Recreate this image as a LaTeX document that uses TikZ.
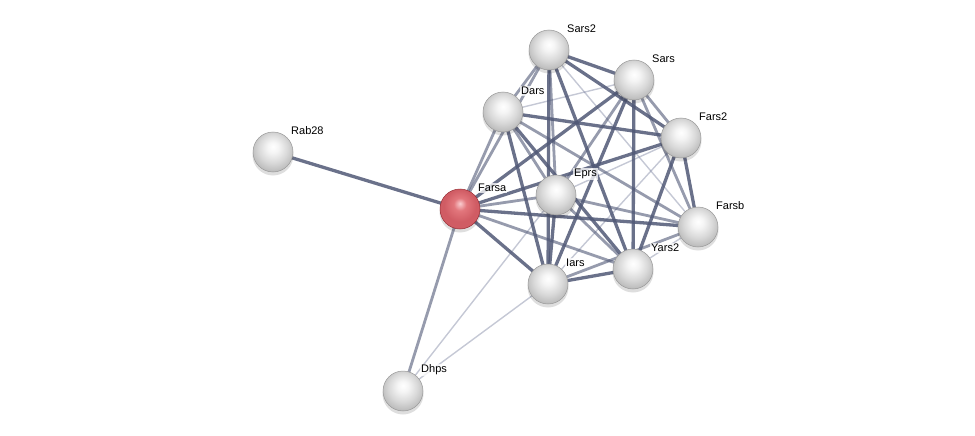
\documentclass[tikz,border=0pt]{standalone}
\usepackage{fontspec}
\setmainfont{Liberation Sans}
\pgfdeclareradialshading{lightball}{\pgfpoint{0bp}{7bp}}{%
  color(0bp)=(white); color(7bp)=(white!96!black); color(18bp)=(white!85!black);
  color(27bp)=(white!74!black); color(31bp)=(white!58!black); color(50bp)=(white!58!black)}
\definecolor{rA}{RGB}{250,205,208}
\definecolor{rB}{RGB}{226,118,124}
\definecolor{rC}{RGB}{208,92,100}
\definecolor{rD}{RGB}{160,50,58}
\pgfdeclareradialshading{redball}{\pgfpoint{0bp}{7bp}}{%
  color(0bp)=(rA); color(8bp)=(rB); color(20bp)=(rC);
  color(28bp)=(rC); color(31bp)=(rD); color(50bp)=(rD)}
\begin{document}
\begin{tikzpicture}[x=1pt,y=-1pt,
  ballnode/.style={circle,minimum size=40pt,inner sep=0pt,shading=lightball,draw=white!60!black,line width=0.5pt},
  rednode/.style={circle,minimum size=40pt,inner sep=0pt,shading=redball,draw={rgb,255:red,150;green,45;blue,52},line width=0.5pt},
  lbl/.style={anchor=west,font=\fontsize{11}{13}\selectfont,fill=white,fill opacity=0.75,text opacity=1,inner sep=1pt},
  estrong/.style={line width=3.3pt,draw={rgb,255:red,80;green,88;blue,118},draw opacity=0.85},
  emid/.style={line width=2.8pt,draw={rgb,255:red,80;green,88;blue,118},draw opacity=0.6},
  eweak/.style={line width=1.4pt,draw={rgb,255:red,110;green,118;blue,150},draw opacity=0.4}]
\useasboundingbox (0,0) rectangle (975,436);
% node anchors for edges
\coordinate (s2) at (549,50);
\coordinate (s) at (634,80);
\coordinate (d) at (503,112);
\coordinate (f2) at (681,138);
\coordinate (r) at (273,152);
\coordinate (fa) at (460,209);
\coordinate (e) at (556,195);
\coordinate (fb) at (698,227);
\coordinate (y) at (633,269);
\coordinate (i) at (548,284);
\coordinate (dh) at (403,391);
% edges
\foreach \a/\b in {s/d,s2/fb,f2/i,f2/e,fb/y,dh/e,dh/i}
  \draw[eweak] (\a) -- (\b);
\foreach \a/\b in {s2/d,s2/e,s2/fa,s/f2,s/fb,s/e,d/fb,d/e,d/fa,fb/i,fb/e,y/e,y/fa,e/fa,dh/fa}
  \draw[emid] (\a) -- (\b);
\foreach \a/\b in {s2/s,s2/f2,s2/i,s2/y,s/i,s/y,s/fa,d/y,d/i,f2/fa,f2/fb,f2/y,fb/fa,y/i,i/e,i/fa,d/f2,r/fa}
  \draw[estrong] (\a) -- (\b);
% shadows
\foreach \p in {s2,s,d,f2,r,fa,e,fb,y,i,dh}
  \fill[black,opacity=0.13] (\p) ++(0,3) circle (20.5);
% nodes
\node[ballnode] (ns2) at (s2) {};
\node[ballnode] (ns) at (s) {};
\node[ballnode] (nd) at (d) {};
\node[ballnode] (nf2) at (f2) {};
\node[ballnode] (nr) at (r) {};
\node[rednode] (nfa) at (fa) {};
\node[ballnode] (ne) at (e) {};
\node[ballnode] (nfb) at (fb) {};
\node[ballnode] (ny) at (y) {};
\node[ballnode] (ni) at (i) {};
\node[ballnode] (ndh) at (dh) {};
% labels
\node[lbl] (ls2) at ([shift={(17,-21)}]ns2.center) {Sars2};
\node[lbl] (ls) at ([shift={(17,-21)}]ns.center) {Sars};
\node[lbl] (ld) at ([shift={(17,-21)}]nd.center) {Dars};
\node[lbl] (lf2) at ([shift={(17,-21)}]nf2.center) {Fars2};
\node[lbl] (lr) at ([shift={(17,-21)}]nr.center) {Rab28};
\node[lbl] (lfa) at ([shift={(17,-21)}]nfa.center) {Farsa};
\node[lbl] (le) at ([shift={(17,-21)}]ne.center) {Eprs};
\node[lbl] (lfb) at ([shift={(17,-21)}]nfb.center) {Farsb};
\node[lbl] (ly) at ([shift={(17,-21)}]ny.center) {Yars2};
\node[lbl] (li) at ([shift={(17,-21)}]ni.center) {Iars};
\node[lbl] (ldh) at ([shift={(17,-21)}]ndh.center) {Dhps};
\end{tikzpicture}
\end{document}
